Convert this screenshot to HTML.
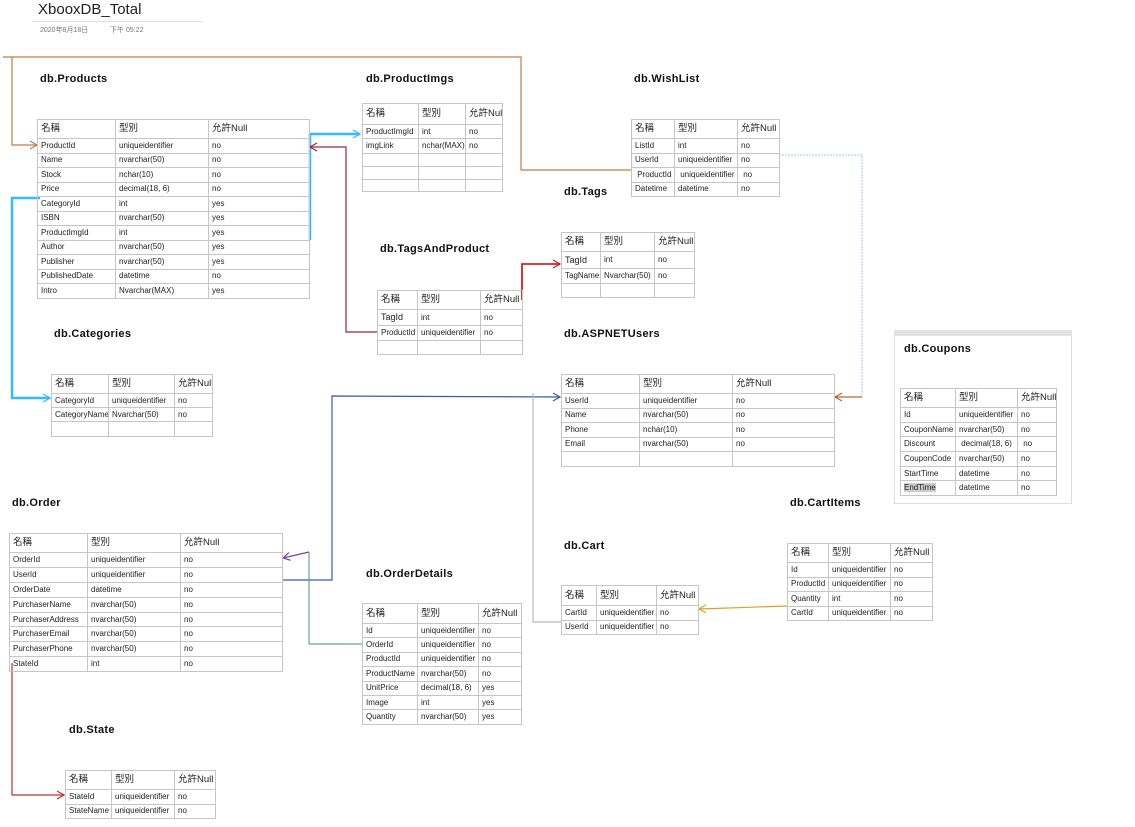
<!DOCTYPE html>
<html><head><meta charset="utf-8">
<style>
body{margin:0;width:1135px;height:827px;background:#fff;position:relative;overflow:hidden;font-family:"Liberation Sans","Noto Sans CJK TC",sans-serif;}
.t{position:absolute;border-collapse:collapse;table-layout:fixed;font-size:8px;color:#222;}
.t td{border:1px solid #c6c6c6;padding:0 0 0 3px;white-space:nowrap;overflow:hidden;vertical-align:middle;line-height:1;}
.t tr.h td{font-size:9.5px;vertical-align:middle;}
.ti{position:absolute;font-weight:bold;font-size:11px;color:#111;letter-spacing:0.3px;}
svg{position:absolute;left:0;top:0;}
</style></head><body>
<div style="position:absolute;left:38px;top:1px;font-size:15px;color:#222;">XbooxDB_Total</div>
<div style="position:absolute;left:32px;top:21px;width:170px;border-top:1px solid #ddd;"></div>
<div style="position:absolute;left:40px;top:25px;font-size:7px;color:#777;">2020年8月18日</div>
<div style="position:absolute;left:110px;top:25px;font-size:7px;color:#777;">下午 05:22</div>

<div class="ti" style="left:40px;top:73px">db.Products</div>
<div class="ti" style="left:366px;top:73px">db.ProductImgs</div>
<div class="ti" style="left:634px;top:73px">db.WishList</div>
<div class="ti" style="left:564px;top:186px">db.Tags</div>
<div class="ti" style="left:380px;top:243px">db.TagsAndProduct</div>
<div class="ti" style="left:564px;top:328px">db.ASPNETUsers</div>
<div class="ti" style="left:54px;top:328px">db.Categories</div>
<div class="ti" style="left:12px;top:497px">db.Order</div>
<div class="ti" style="left:366px;top:568px">db.OrderDetails</div>
<div class="ti" style="left:564px;top:540px">db.Cart</div>
<div class="ti" style="left:790px;top:497px">db.CartItems</div>
<div class="ti" style="left:69px;top:724px">db.State</div>

<div style="position:absolute;left:894px;top:330px;width:176px;height:172px;border:1px solid #ddd;"></div>
<div style="position:absolute;left:894px;top:330px;width:177px;height:6px;background:#e2e2e2;"></div>
<div class="ti" style="left:904px;top:343px">db.Coupons</div>

<svg width="1135" height="827">
<defs>
<marker id="a" markerWidth="10" markerHeight="10" refX="8" refY="5" orient="auto" markerUnits="userSpaceOnUse"><path d="M1,1 L8,5 L1,9" fill="none" stroke="context-stroke" stroke-width="1.2"/></marker>
</defs>
<g fill="none">
<polyline points="3,57 521,57 521,170 631,170" stroke="#c47a45" stroke-width="1.2"/>
<polyline points="12,57 12,145 37,145" stroke="#c47a45" stroke-width="1.2" marker-end="url(#a)"/>
<polyline points="310,240 310,134 360,134" stroke="#33bbff" stroke-width="2.5" marker-end="url(#a)"/>
<polyline points="40,198 12,198 12,398 50,398" stroke="#33bbff" stroke-width="2.5" marker-end="url(#a)"/>
<polyline points="377,332 346,332 346,147 310,147" stroke="#a0243a" stroke-width="1.2" marker-end="url(#a)"/>
<polyline points="522,300 522,264 560,264" stroke="#cc2222" stroke-width="1.8" marker-end="url(#a)"/>
<polyline points="779,155 862,155 862,397" stroke="#bcd0e8" stroke-width="1.2" stroke-dasharray="2,1"/>
<polyline points="862,397 835,397" stroke="#c06030" stroke-width="1.2" marker-end="url(#a)"/>
<polyline points="282,580 332,580 332,396 560,397" stroke="#3a5aa8" stroke-width="1.2" marker-end="url(#a)"/>
<polyline points="309,552 283,558" stroke="#8a3aa0" stroke-width="1.2" marker-end="url(#a)"/>
<polyline points="309,552 309,644 362,644" stroke="#6aa0a0" stroke-width="1.2"/>
<polyline points="533,393 533,622 561,622" stroke="#bbbbbb" stroke-width="1.2"/>
<polyline points="787,606 699,609" stroke="#e0a020" stroke-width="1.2" marker-end="url(#a)"/>
<polyline points="12,663 12,795 64,795" stroke="#c03030" stroke-width="1.2" marker-end="url(#a)"/>
</g>
</svg>

<table class="t" style="left:37px;top:119px;width:272px"><col style="width:78px"><col style="width:93px"><col style="width:101px">
<tr class="h" style="height:19px"><td>名稱</td><td>型別</td><td>允許Null</td></tr>
<tr style="height:14.5px"><td>ProductId</td><td>uniqueidentifier</td><td>no</td></tr>
<tr style="height:14.5px"><td>Name</td><td>nvarchar(50)</td><td>no</td></tr>
<tr style="height:14.5px"><td>Stock</td><td>nchar(10)</td><td>no</td></tr>
<tr style="height:14.5px"><td>Price</td><td>decimal(18, 6)</td><td>no</td></tr>
<tr style="height:14.5px"><td>CategoryId</td><td>int</td><td>yes</td></tr>
<tr style="height:14.5px"><td>ISBN</td><td>nvarchar(50)</td><td>yes</td></tr>
<tr style="height:14.5px"><td>ProductImgId</td><td>int</td><td>yes</td></tr>
<tr style="height:14.5px"><td>Author</td><td>nvarchar(50)</td><td>yes</td></tr>
<tr style="height:14.5px"><td>Publisher</td><td>nvarchar(50)</td><td>yes</td></tr>
<tr style="height:14.5px"><td>PublishedDate</td><td>datetime</td><td>no</td></tr>
<tr style="height:14.5px"><td>Intro</td><td>Nvarchar(MAX)</td><td>yes</td></tr>
</table>

<table class="t" style="left:362px;top:103px;width:140px"><col style="width:56px"><col style="width:47px"><col style="width:37px">
<tr class="h" style="height:21px"><td>名稱</td><td>型別</td><td>允許Null</td></tr>
<tr style="height:14px"><td>ProductImgId</td><td>int</td><td>no</td></tr>
<tr style="height:15px"><td>imgLink</td><td>nchar(MAX)</td><td>no</td></tr>
<tr style="height:13px"><td></td><td></td><td></td></tr>
<tr style="height:13px"><td></td><td></td><td></td></tr>
<tr style="height:12px"><td></td><td></td><td></td></tr>
</table>

<table class="t" style="left:631px;top:119px;width:148px"><col style="width:43px"><col style="width:63px"><col style="width:42px">
<tr class="h" style="height:19px"><td>名稱</td><td>型別</td><td>允許Null</td></tr>
<tr style="height:14.5px"><td>ListId</td><td>int</td><td>no</td></tr>
<tr style="height:14.5px"><td>UserId</td><td>uniqueidentifier</td><td>no</td></tr>
<tr style="height:14.5px"><td>&nbsp;ProductId</td><td>&nbsp;uniqueidentifier</td><td>&nbsp;no</td></tr>
<tr style="height:14.5px"><td>Datetime</td><td>datetime</td><td>no</td></tr>
</table>

<table class="t" style="left:561px;top:232px;width:133px"><col style="width:39px"><col style="width:54px"><col style="width:40px">
<tr class="h" style="height:19px"><td>名稱</td><td>型別</td><td>允許Null</td></tr>
<tr style="height:17px"><td style="font-size:9px">TagId</td><td>int</td><td>no</td></tr>
<tr style="height:15px"><td>TagName</td><td>Nvarchar(50)</td><td>no</td></tr>
<tr style="height:14px"><td></td><td></td><td></td></tr>
</table>

<table class="t" style="left:377px;top:290px;width:145px"><col style="width:40px"><col style="width:63px"><col style="width:42px">
<tr class="h" style="height:19px"><td>名稱</td><td>型別</td><td>允許Null</td></tr>
<tr style="height:16px"><td style="font-size:9px">TagId</td><td>int</td><td>no</td></tr>
<tr style="height:15px"><td>ProductId</td><td>uniqueidentifier</td><td>no</td></tr>
<tr style="height:14px"><td></td><td></td><td></td></tr>
</table>

<table class="t" style="left:51px;top:374px;width:161px"><col style="width:57px"><col style="width:66px"><col style="width:38px">
<tr class="h" style="height:19px"><td>名稱</td><td>型別</td><td>允許Null</td></tr>
<tr style="height:14px"><td>CategoryId</td><td>uniqueidentifier</td><td>no</td></tr>
<tr style="height:14px"><td>CategoryName</td><td>Nvarchar(50)</td><td>no</td></tr>
<tr style="height:15px"><td></td><td></td><td></td></tr>
</table>

<table class="t" style="left:561px;top:374px;width:273px"><col style="width:78px"><col style="width:93px"><col style="width:102px">
<tr class="h" style="height:19px"><td>名稱</td><td>型別</td><td>允許Null</td></tr>
<tr style="height:14.5px"><td>UserId</td><td>uniqueidentifier</td><td>no</td></tr>
<tr style="height:14.5px"><td>Name</td><td>nvarchar(50)</td><td>no</td></tr>
<tr style="height:14.5px"><td>Phone</td><td>nchar(10)</td><td>no</td></tr>
<tr style="height:14.5px"><td>Email</td><td>nvarchar(50)</td><td>no</td></tr>
<tr style="height:15px"><td></td><td></td><td></td></tr>
</table>

<table class="t" style="left:900px;top:388px;width:156px"><col style="width:55px"><col style="width:62px"><col style="width:39px">
<tr class="h" style="height:19px"><td>名稱</td><td>型別</td><td>允許Null</td></tr>
<tr style="height:14.7px"><td>Id</td><td>uniqueidentifier</td><td>no</td></tr>
<tr style="height:14.7px"><td>CouponName</td><td>nvarchar(50)</td><td>no</td></tr>
<tr style="height:14.7px"><td>Discount</td><td>&nbsp;decimal(18, 6)</td><td>&nbsp;no</td></tr>
<tr style="height:14.7px"><td>CouponCode</td><td>nvarchar(50)</td><td>no</td></tr>
<tr style="height:14.7px"><td>StartTime</td><td>datetime</td><td>no</td></tr>
<tr style="height:14.7px"><td><span style="background:#ccc">EndTime</span></td><td>datetime</td><td>no</td></tr>
</table>

<table class="t" style="left:9px;top:533px;width:273px"><col style="width:78px"><col style="width:93px"><col style="width:102px">
<tr class="h" style="height:19px"><td>名稱</td><td>型別</td><td>允許Null</td></tr>
<tr style="height:14.9px"><td>OrderId</td><td>uniqueidentifier</td><td>no</td></tr>
<tr style="height:14.9px"><td>UserId</td><td>uniqueidentifier</td><td>no</td></tr>
<tr style="height:14.9px"><td>OrderDate</td><td>datetime</td><td>no</td></tr>
<tr style="height:14.9px"><td>PurchaserName</td><td>nvarchar(50)</td><td>no</td></tr>
<tr style="height:14.9px"><td>PurchaserAddress</td><td>nvarchar(50)</td><td>no</td></tr>
<tr style="height:14.9px"><td>PurchaserEmail</td><td>nvarchar(50)</td><td>no</td></tr>
<tr style="height:14.9px"><td>PurchaserPhone</td><td>nvarchar(50)</td><td>no</td></tr>
<tr style="height:14.9px"><td>StateId</td><td>int</td><td>no</td></tr>
</table>

<table class="t" style="left:362px;top:603px;width:159px"><col style="width:55px"><col style="width:61px"><col style="width:43px">
<tr class="h" style="height:20px"><td>名稱</td><td>型別</td><td>允許Null</td></tr>
<tr style="height:14.4px"><td>Id</td><td>uniqueidentifier</td><td>no</td></tr>
<tr style="height:14.4px"><td>OrderId</td><td>uniqueidentifier</td><td>no</td></tr>
<tr style="height:14.4px"><td>ProductId</td><td>uniqueidentifier</td><td>no</td></tr>
<tr style="height:14.4px"><td>ProductName</td><td>nvarchar(50)</td><td>no</td></tr>
<tr style="height:14.4px"><td>UnitPrice</td><td>decimal(18, 6)</td><td>yes</td></tr>
<tr style="height:14.4px"><td>Image</td><td>int</td><td>yes</td></tr>
<tr style="height:14.4px"><td>Quantity</td><td>nvarchar(50)</td><td>yes</td></tr>
</table>

<table class="t" style="left:561px;top:585px;width:137px"><col style="width:35px"><col style="width:60px"><col style="width:42px">
<tr class="h" style="height:20px"><td>名稱</td><td>型別</td><td>允許Null</td></tr>
<tr style="height:14.5px"><td>CartId</td><td>uniqueidentifier</td><td>no</td></tr>
<tr style="height:14.5px"><td>UserId</td><td>uniqueidentifier</td><td>no</td></tr>
</table>

<table class="t" style="left:787px;top:543px;width:145px"><col style="width:41px"><col style="width:62px"><col style="width:42px">
<tr class="h" style="height:19px"><td>名稱</td><td>型別</td><td>允許Null</td></tr>
<tr style="height:14.5px"><td>Id</td><td>uniqueidentifier</td><td>no</td></tr>
<tr style="height:14.5px"><td>ProductId</td><td>uniqueidentifier</td><td>no</td></tr>
<tr style="height:14.5px"><td>Quantity</td><td>int</td><td>no</td></tr>
<tr style="height:14.5px"><td>CartId</td><td>uniqueidentifier</td><td>no</td></tr>
</table>

<table class="t" style="left:65px;top:770px;width:150px"><col style="width:46px"><col style="width:63px"><col style="width:41px">
<tr class="h" style="height:19px"><td>名稱</td><td>型別</td><td>允許Null</td></tr>
<tr style="height:14.5px"><td>StateId</td><td>uniqueidentifier</td><td>no</td></tr>
<tr style="height:14.5px"><td>StateName</td><td>uniqueidentifier</td><td>no</td></tr>
</table>
</body></html>
